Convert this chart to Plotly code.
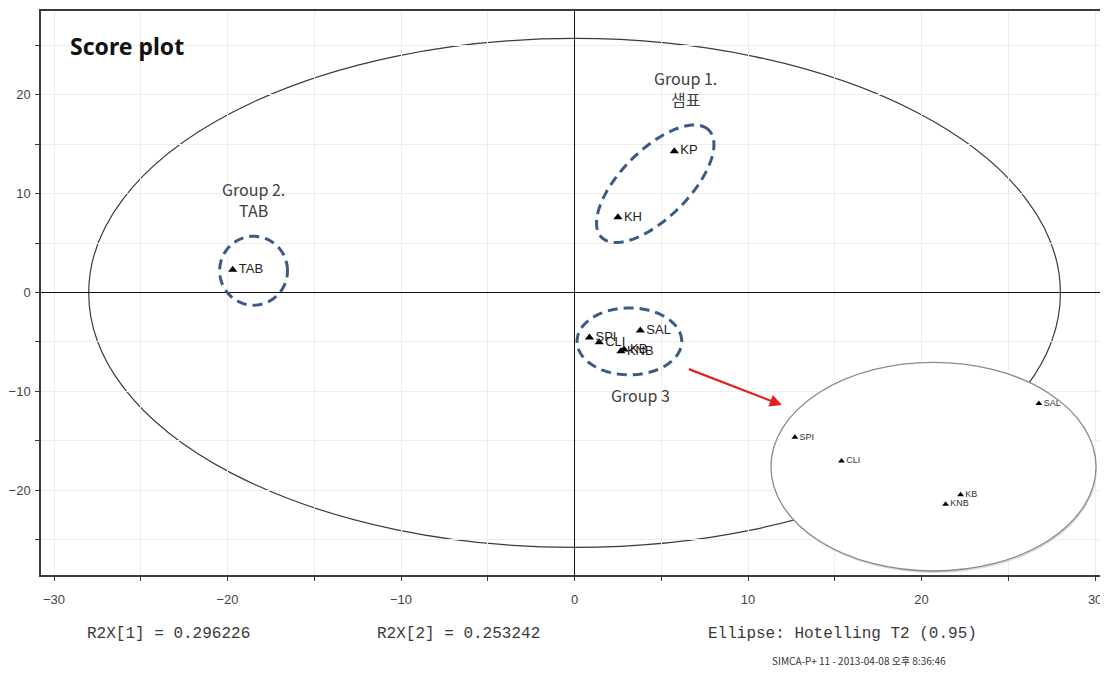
import numpy as np
import plotly.graph_objects as go

# ---------------- data ----------------
sample_names = ["TAB", "KP", "KH", "SAL", "SPI", "CLI", "KB", "KNB"]
t1_scores = [-19.7, 5.75, 2.5, 3.79, 0.86, 1.42, 2.85, 2.67]
t2_scores = [2.3, 14.3, 7.6, -3.84, -4.55, -5.05, -5.76, -5.96]

inset_names = ["SPI", "CLI", "SAL", "KB", "KNB"]

x_tick_vals = [-30, -20, -10, 0, 10, 20, 30]
y_tick_vals = [-20, -10, 0, 10, 20]

r2x_1 = 0.296226
r2x_2 = 0.253242
hotelling_level = 0.95

# ---------------- layout geometry ----------------
# page body has an 8px margin; figure is placed at (8, 8)
OFF = 8
W, H = 1100, 666
ML, MR, MT, MB = 40 - OFF, 1, 10 - OFF, 99
X_RANGE = [-30.75, 30.57]
Y_RANGE = [-28.59, 28.48]
PW, PH = W - ML - MR, H - MT - MB
SX = PW / (X_RANGE[1] - X_RANGE[0])   # px per unit
SY = PH / (Y_RANGE[1] - Y_RANGE[0])

def px_to_paper(px, py):
    # px, py are page (screen) coordinates
    return (px - OFF - ML) / PW, (H - MB - (py - OFF)) / PH

def ellipse_path(cx, cy, a_px, b_px, ang_deg, sx=SX, sy=SY, n=120):
    t = np.linspace(0, 2 * np.pi, n)
    th = np.deg2rad(ang_deg)
    ex = a_px * np.cos(t)
    ey = b_px * np.sin(t)
    dx = ex * np.cos(th) - ey * np.sin(th)
    dy = ex * np.sin(th) + ey * np.cos(th)
    xs = cx + dx / sx
    ys = cy + dy / sy
    return "M " + " L ".join(f"{x:.4f},{y:.4f}" for x, y in zip(xs, ys)) + " Z"

fig = go.Figure()

# main score points
fig.add_trace(go.Scatter(
    x=t1_scores, y=t2_scores, mode="markers+text",
    text=sample_names, textposition="middle right",
    textfont=dict(family="Liberation Sans, Arial", size=13, color="#222222"),
    marker=dict(symbol="triangle-up", size=8, color="black"),
    xaxis="x", yaxis="y", showlegend=False, hoverinfo="skip", cliponaxis=False,
))

# inset (zoom of group 3)
idx = [sample_names.index(n) for n in inset_names]
fig.add_trace(go.Scatter(
    x=[t1_scores[i] for i in idx], y=[t2_scores[i] for i in idx],
    mode="markers+text", text=inset_names, textposition="middle right",
    textfont=dict(family="Liberation Sans, Arial", size=9, color="#333333"),
    marker=dict(symbol="triangle-up", size=6, color="black"),
    xaxis="x2", yaxis="y2", showlegend=False, hoverinfo="skip",
))

shapes = []
# Hotelling T2 ellipse (below so that the inset disc hides it)
shapes.append(dict(type="circle", xref="x", yref="y", x0=-28.0, x1=28.0, y0=-25.8, y1=25.7,
                   line=dict(color="#3a3a3a", width=1.2), layer="below"))

dash_col = "#3b5a86"
dash_line = dict(color=dash_col, width=3, dash="10px,6px")
shapes.append(dict(type="path", xref="x", yref="y",
                   path=ellipse_path(4.65, 11.0, 76, 34, 45), line=dash_line))
shapes.append(dict(type="path", xref="x", yref="y",
                   path=ellipse_path(-18.5, 2.2, 34, 34.5, 0), line=dash_line))
shapes.append(dict(type="path", xref="x", yref="y",
                   path=ellipse_path(3.16, -4.95, 52.5, 33.5, 0), line=dash_line))

# inset axes geometry (page pixels)
IX_PX = (766, 1104)
IY_PX = (356, 575)
ISX = SX * 4.8
ISY = SY * 4.8
IX_RANGE = [0.501, 0.501 + (IX_PX[1] - IX_PX[0]) / ISX]
IY_RANGE = [-2.845 - (IY_PX[1] - IY_PX[0]) / ISY, -2.845]
ix0, iy1 = px_to_paper(IX_PX[0], IY_PX[0])
ix1, iy0 = px_to_paper(IX_PX[1], IY_PX[1])
iy0 = max(0.0, iy0)

def inset_x(px):
    return IX_RANGE[0] + (px - IX_PX[0]) / ISX

def inset_y(py):
    return IY_RANGE[1] - (py - IY_PX[0]) / ISY

shapes.append(dict(type="circle", xref="x2", yref="y2", layer="below",
                   x0=inset_x(773), x1=inset_x(1099), y0=inset_y(573), y1=inset_y(364),
                   fillcolor="#dadada", line=dict(width=0)))
shapes.append(dict(type="circle", xref="x2", yref="y2", layer="below",
                   x0=inset_x(772), x1=inset_x(1098), y0=inset_y(571), y1=inset_y(362),
                   fillcolor="white", line=dict(color="#8a8a8a", width=1.3)))

annotations = []
grp_font = dict(family="Noto Sans CJK KR, Noto Sans", size=16, color="#404040")
annotations.append(dict(x=6.38, y=20.6, xref="x", yref="y", text="Group 1.<br>샘표",
                        showarrow=False, font=grp_font, align="center"))
annotations.append(dict(x=-18.5, y=9.4, xref="x", yref="y", text="Group 2.<br>TAB",
                        showarrow=False, font=grp_font, align="center"))
annotations.append(dict(x=3.8, y=-10.4, xref="x", yref="y", text="Group 3",
                        showarrow=False, font=grp_font, align="center"))
annotations.append(dict(x=11.95, y=-11.4, ax=6.5, ay=-7.7, xref="x", yref="y",
                        axref="x", ayref="y", text="", showarrow=True,
                        arrowhead=2, arrowsize=1.1, arrowwidth=2.2, arrowcolor="#e3201b"))
tx, ty = px_to_paper(67, 45)
annotations.append(dict(x=tx, y=ty, xref="paper", yref="paper", xanchor="left", yanchor="middle",
                        text="<b>Score plot</b>", showarrow=False,
                        font=dict(family="Noto Sans, Open Sans", size=23, color="#111111")))
mono = dict(family="Liberation Mono, Courier New", size=16, color="#3a3a3a")
for px, txt in [(84, f"R2X[1] = {r2x_1:.6f}"), (375, f"R2X[2] = {r2x_2:.6f}"),
                (707, f"Ellipse: Hotelling T2 ({hotelling_level:.2f})")]:
    ax_, ay_ = px_to_paper(px, 634)
    annotations.append(dict(x=ax_, y=ay_, xref="paper", yref="paper", xanchor="left",
                            yanchor="middle", text=txt, showarrow=False, font=mono))
sx_, sy_ = px_to_paper(860, 661)
annotations.append(dict(x=sx_, y=sy_, xref="paper", yref="paper", xanchor="center",
                        yanchor="middle", text="SIMCA-P+ 11 - 2013-04-08 오후 8:36:46",
                        showarrow=False,
                        font=dict(family="Liberation Sans Narrow, Noto Sans CJK KR", size=10,
                                  color="#333333")))

axis_common = dict(
    showline=True, linecolor="#3a3a3a", linewidth=1.5, mirror=True,
    ticks="outside", ticklen=4, tickcolor="#3a3a3a", tickwidth=1,
    showgrid=True, gridcolor="#ededed", gridwidth=1,
    zeroline=True, zerolinecolor="#111111", zerolinewidth=1.3,
    tickfont=dict(family="Liberation Sans, Arial", size=13, color="#444444"),
    minor=dict(dtick=5, showgrid=True, gridcolor="#ededed", ticks="outside", ticklen=4,
               tickcolor="#3a3a3a"),
    fixedrange=True,
)

fig.update_layout(
    width=W, height=H,
    margin=dict(l=ML, r=MR, t=MT, b=MB, pad=0),
    paper_bgcolor="white", plot_bgcolor="rgba(0,0,0,0)",
    xaxis=dict(range=X_RANGE, tickvals=x_tick_vals, ticklabelstandoff=8, **axis_common),
    yaxis=dict(range=Y_RANGE, tickvals=y_tick_vals, ticklabelstandoff=2, **axis_common),
    xaxis2=dict(domain=[ix0, ix1], range=IX_RANGE, anchor="y2", visible=False, fixedrange=True),
    yaxis2=dict(domain=[iy0, iy1], range=IY_RANGE, anchor="x2", visible=False, fixedrange=True),
    shapes=shapes, annotations=annotations,
    showlegend=False,
)

fig.write_html("out.html")
